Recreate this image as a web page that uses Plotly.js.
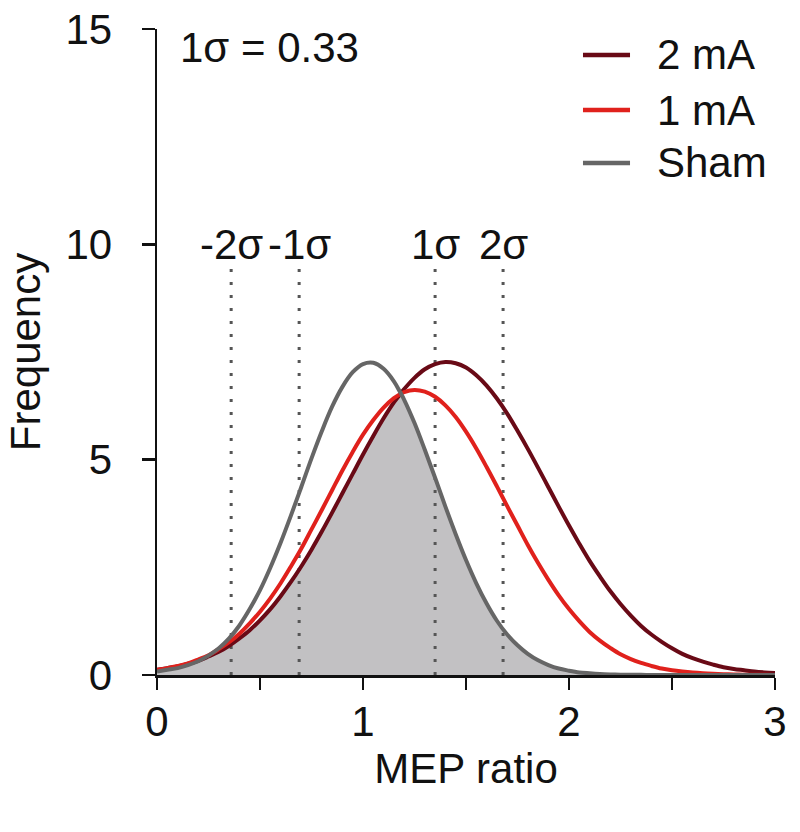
<!DOCTYPE html>
<html>
<head>
<meta charset="utf-8">
<script src="https://cdn.plot.ly/plotly-3.0.1.min.js"></script>
<style>html,body{margin:0;padding:0;background:#fff;}#chart{width:800px;height:832px;}</style>
</head>
<body>
<div id="chart"></div>
<script>
// MEP ratio grid
const mepRatio = [0,0.05,0.1,0.15,0.2,0.25,0.3,0.35,0.4,0.45,0.5,0.55,0.6,0.65,0.7,0.75,0.8,0.85,0.9,0.95,
  1.0,1.05,1.1,1.15,1.18,1.2,1.25,1.3,1.35,1.4,1.45,1.5,1.55,1.6,1.65,1.7,1.75,1.8,1.85,1.9,1.95,
  2.0,2.05,2.1,2.15,2.2,2.25,2.3,2.35,2.4,2.45,2.5,2.55,2.6,2.65,2.7,2.75,2.8,2.85,2.9,2.95,3.0];
// Frequency curves
const freq2mA = [0.12,0.16,0.20,0.26,0.33,0.43,0.54,0.68,0.85,1.04,1.27,1.53,1.83,2.16,2.52,2.91,3.33,3.77,4.22,4.67,
  5.12,5.55,5.96,6.33,6.52,6.64,6.90,7.10,7.22,7.27,7.24,7.14,6.96,6.72,6.42,6.07,5.67,5.25,4.81,4.36,3.91,
  3.47,3.05,2.65,2.29,1.95,1.65,1.38,1.14,0.94,0.77,0.62,0.49,0.39,0.31,0.24,0.18,0.14,0.11,0.08,0.06,0.045];
const freq1mA = [0.12,0.16,0.21,0.27,0.36,0.46,0.60,0.76,0.96,1.20,1.47,1.78,2.13,2.52,2.93,3.38,3.83,4.29,4.75,5.18,
  5.58,5.92,6.21,6.43,6.52,6.57,6.62,6.58,6.46,6.26,5.99,5.65,5.26,4.83,4.38,3.92,3.47,3.02,2.60,2.21,1.85,
  1.53,1.25,1.00,0.80,0.63,0.48,0.37,0.28,0.21,0.15,0.11,0.08,0.056,0.039,0.027,0.018,0.012,0.008,0.005,0.003,0.002];
const freqSham = [0.08,0.12,0.16,0.23,0.32,0.45,0.62,0.85,1.15,1.53,1.97,2.49,3.07,3.70,4.36,5.03,5.66,6.23,6.69,7.03,
  7.22,7.25,7.11,6.82,6.57,6.39,5.85,5.23,4.58,3.91,3.27,2.67,2.13,1.66,1.26,0.94,0.69,0.49,0.34,0.23,0.15,
  0.10,0.06,0.04,0.024,0.014,0.008,0.005,0.003,0.001,0,0,0,0,0,0,0,0,0,0,0,0];
const seriesNames = ['2 mA','1 mA','Sham'];
// sigma markers (Sham: mean 1.02, 1σ = 0.33)
const sigmaX = [0.36,0.69,1.35,1.68];
const sigmaLabels = ['-2σ','-1σ','1σ','2σ'];
const sigmaTop = 9.6;
const sigmaLabelY = 10;
const sdText = '1σ = 0.33';
const xTicks = [0,1,2,3];
const yTicks = [0,5,10,15];

const FONT = 'Liberation Sans, Arial, sans-serif';
const FS = 42;
const INK = '#111111';
const colors = {'2 mA':'#690a16','1 mA':'#e0211c','Sham':'#666666'};

// overlap area = minimum of the three curves
const overlap = mepRatio.map((_, i) => Math.min(freq2mA[i], freq1mA[i], freqSham[i]));

const traces = [];
traces.push({x: mepRatio, y: overlap, type:'scatter', mode:'lines', line:{width:0, shape:'spline'},
  fill:'tozeroy', fillcolor:'#c2c1c3', showlegend:false, hoverinfo:'skip'});
sigmaX.forEach(sx => traces.push({x:[sx,sx], y:[0,sigmaTop], type:'scatter', mode:'lines',
  line:{color:'#555555', width:3, dash:'3px,10px'}, showlegend:false, hoverinfo:'skip'}));
const ys = {'2 mA':freq2mA,'1 mA':freq1mA,'Sham':freqSham};
seriesNames.forEach(n => traces.push({x: mepRatio, y: ys[n], type:'scatter', mode:'lines', name:n,
  line:{color:colors[n], width:4, shape:'spline'}, showlegend:false}));

const annotations = sigmaX.map((sx, i) => ({x:sx, y:sigmaLabelY, xref:'x', yref:'y', text:sigmaLabels[i],
  showarrow:false, xanchor:'center', yanchor:'middle', font:{family:FONT, size:FS, color:INK}}));
annotations.push({x:0.1, y:14.56, xref:'x', yref:'y', text:sdText, showarrow:false, xanchor:'left', yanchor:'middle',
  font:{family:FONT, size:FS, color:INK}});

// legend (keys + labels)
const legendRowsY = [0.9598, 0.8746, 0.7926];
const shapes = [];
seriesNames.forEach((n, i) => {
  shapes.push({type:'line', xref:'paper', yref:'paper', x0:0.6893, x1:0.7654, y0:legendRowsY[i], y1:legendRowsY[i],
    line:{color:colors[n], width:4.5}});
  annotations.push({xref:'paper', yref:'paper', x:0.8058, y:legendRowsY[i], text:n, showarrow:false,
    xanchor:'left', yanchor:'middle', font:{family:FONT, size:FS, color:INK}});
});

const layout = {
  width:800, height:832,
  margin:{l:157, r:25, t:29, b:157},
  paper_bgcolor:'#ffffff', plot_bgcolor:'#ffffff',
  font:{family:FONT, size:FS, color:INK},
  showlegend:false,
  xaxis:{range:[0,3], showline:true, linecolor:INK, linewidth:2.5, ticks:'outside', ticklen:12, tickwidth:2.5,
    tickcolor:INK, tickvals:xTicks, ticktext:xTicks.map(String), showgrid:false, zeroline:false,
    minor:{dtick:0.5, tick0:0, ticks:'outside', ticklen:12, tickwidth:2.5, tickcolor:INK, showgrid:false},
    tickfont:{family:FONT, size:FS, color:INK}, ticklabelstandoff:-4,
    title:{text:'MEP ratio', font:{family:FONT, size:FS, color:INK}, standoff:4}},
  yaxis:{range:[0,15], showline:true, linecolor:INK, linewidth:2.5, ticks:'outside', ticklen:13, tickwidth:2.5,
    tickcolor:INK, tickvals:yTicks, ticktext:yTicks.map(String), showgrid:false, zeroline:false,
    tickfont:{family:FONT, size:FS, color:INK}, ticklabelstandoff:21,
    title:{text:'Frequency', font:{family:FONT, size:FS, color:INK}, standoff:12}},
  shapes: shapes,
  annotations: annotations
};
Plotly.newPlot('chart', traces, layout, {displayModeBar:false, staticPlot:true});
</script>
</body>
</html>
